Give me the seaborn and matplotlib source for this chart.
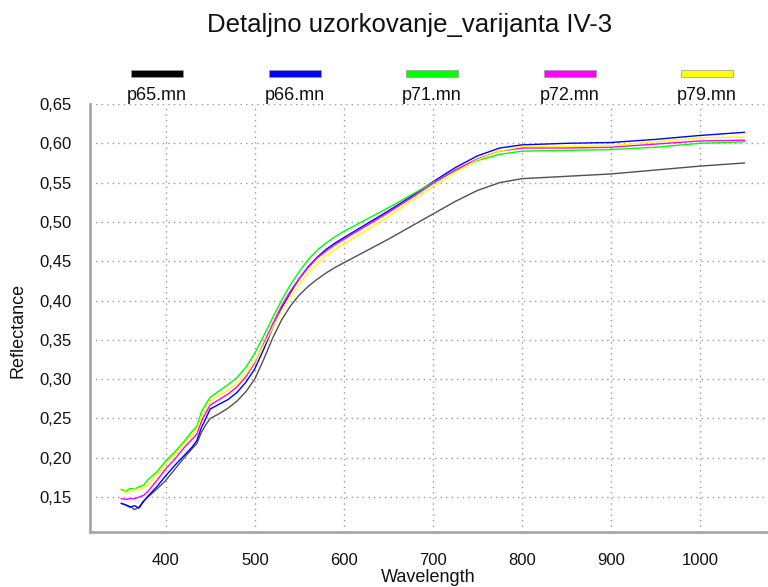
import matplotlib
matplotlib.use("Agg")
import matplotlib.pyplot as plt
import matplotlib.ticker as mticker
from matplotlib.patches import Rectangle
import seaborn as sns
import pandas as pd

wavelength = [350, 355, 360, 365, 370, 375, 380, 390, 400, 410, 420, 430, 435, 440, 445,
              450, 460, 470, 480, 490, 500, 510, 520, 530, 540, 550, 560, 570, 580, 590,
              600, 625, 650, 675, 700, 725, 750, 775, 800, 850, 900, 950, 1000, 1050]

p65 = [0.142, 0.140, 0.138, 0.134, 0.137, 0.145, 0.150, 0.160, 0.171, 0.185, 0.199, 0.212, 0.218, 0.232, 0.242,
       0.250, 0.256, 0.263, 0.272, 0.284, 0.300, 0.325, 0.352, 0.375, 0.393, 0.407, 0.418, 0.427, 0.435, 0.442,
       0.448, 0.463, 0.478, 0.494, 0.510, 0.526, 0.540, 0.550, 0.555, 0.558, 0.561, 0.566, 0.571, 0.575]
p66 = [0.142, 0.140, 0.137, 0.139, 0.136, 0.144, 0.151, 0.163, 0.177, 0.190, 0.202, 0.214, 0.222, 0.238, 0.250,
       0.262, 0.268, 0.274, 0.283, 0.296, 0.313, 0.338, 0.365, 0.390, 0.410, 0.428, 0.443, 0.455, 0.465, 0.473,
       0.480, 0.497, 0.514, 0.532, 0.551, 0.569, 0.584, 0.594, 0.598, 0.600, 0.601, 0.605, 0.610, 0.614]
p71 = [0.160, 0.157, 0.161, 0.160, 0.163, 0.165, 0.172, 0.182, 0.196, 0.207, 0.220, 0.234, 0.240, 0.258, 0.268,
       0.277, 0.285, 0.293, 0.302, 0.315, 0.333, 0.355, 0.378, 0.400, 0.420, 0.437, 0.452, 0.464, 0.473, 0.481,
       0.488, 0.503, 0.518, 0.534, 0.550, 0.565, 0.578, 0.586, 0.590, 0.591, 0.592, 0.595, 0.600, 0.602]
p72 = [0.148, 0.147, 0.148, 0.148, 0.150, 0.152, 0.157, 0.171, 0.186, 0.198, 0.212, 0.224, 0.230, 0.246, 0.257,
       0.267, 0.274, 0.281, 0.290, 0.303, 0.321, 0.345, 0.370, 0.393, 0.412, 0.428, 0.442, 0.454, 0.463, 0.471,
       0.478, 0.495, 0.512, 0.530, 0.549, 0.566, 0.580, 0.590, 0.594, 0.594, 0.595, 0.599, 0.603, 0.604]
p79 = [0.158, 0.156, 0.157, 0.160, 0.159, 0.162, 0.165, 0.178, 0.192, 0.204, 0.217, 0.229, 0.236, 0.252, 0.262,
       0.272, 0.279, 0.286, 0.294, 0.306, 0.323, 0.343, 0.365, 0.387, 0.405, 0.421, 0.435, 0.447, 0.457, 0.465,
       0.472, 0.489, 0.507, 0.526, 0.545, 0.563, 0.579, 0.590, 0.596, 0.596, 0.597, 0.602, 0.607, 0.608]

series_names = ["p65.mn", "p66.mn", "p71.mn", "p72.mn", "p79.mn"]
series_values = [p65, p66, p71, p72, p79]
colors = ["#505050", "#0000ff", "#00ff00", "#ff00ff", "#ffff00"]
legend_colors = ["#000000", "#0000ff", "#00ff00", "#ff00ff", "#ffff00"]

x_ticks = [400, 500, 600, 700, 800, 900, 1000]
y_ticks = [0.15, 0.20, 0.25, 0.30, 0.35, 0.40, 0.45, 0.50, 0.55, 0.60, 0.65]

rows = []
for name, vals in zip(series_names, series_values):
    for w, v in zip(wavelength, vals):
        rows.append({"Wavelength": w, "Reflectance": v, "Sample": name})
df = pd.DataFrame(rows)

sns.set_style("white")
plt.rcParams["font.family"] = ["Liberation Sans", "DejaVu Sans"]

fig = plt.figure(figsize=(7.68, 5.87), dpi=100)
ax = fig.add_axes([90 / 768, 1 - 532 / 587, 676 / 768, 428 / 587])

sns.lineplot(data=df, x="Wavelength", y="Reflectance", hue="Sample",
             palette=dict(zip(series_names, colors)), linewidth=1.0,
             legend=False, ax=ax, estimator=None, sort=False)

ax.set_xlim(315, 1074)
ax.set_ylim(0.1055, 0.65)
ax.set_xticks(x_ticks)
ax.set_yticks(y_ticks)
ax.xaxis.set_minor_locator(mticker.MultipleLocator(20))
ax.yaxis.set_minor_locator(mticker.MultipleLocator(0.01))
ax.yaxis.set_major_formatter(mticker.FuncFormatter(lambda v, p: f"{v:.2f}".replace(".", ",")))

ax.grid(True, which="major", linestyle=(0, (1, 3)), color="#999999", linewidth=1.0)
for s in ["top", "right"]:
    ax.spines[s].set_visible(False)
for s in ["left", "bottom"]:
    ax.spines[s].set_color("#a8a8a8")
    ax.spines[s].set_linewidth(2.0)

ax.tick_params(axis="both", which="major", direction="out", length=7, width=0.8,
               color="#bbbbbb", labelsize=12, labelcolor="#111111")
ax.tick_params(axis="x", which="major", pad=8)
ax.tick_params(axis="y", which="major", pad=6)
ax.tick_params(axis="both", which="minor", direction="in", length=3, width=0.6, color="#aaaaaa")

ax.set_xlabel("Wavelength", fontsize=13, color="#111111")
ax.set_ylabel("Reflectance", fontsize=13, color="#111111")
ax.xaxis.set_label_coords(0.5, (532 - 577) / 428)
ax.xaxis.label.set_va("center")
ax.yaxis.set_label_coords((18 - 90) / 676, (532 - 330) / 428)
ax.yaxis.label.set_va("center")

fig.text(410 / 768, 1 - 25 / 587, "Detaljno uzorkovanje_varijanta IV-3",
         ha="center", va="center", fontsize=18.5, color="#111111")

centers = [157, 295, 432, 570, 707]
for cx, name, col in zip(centers, series_names, legend_colors):
    fig.add_artist(Rectangle(((cx - 26) / 768, 1 - 77 / 587), 52 / 768, 7 / 587,
                             transform=fig.transFigure, facecolor=col,
                             edgecolor="#999999", linewidth=0.5))
    fig.text(cx / 768, 1 - 95 / 587, name, ha="center", va="center",
             fontsize=13, color="#111111")

fig.savefig("out.png", dpi=100)
